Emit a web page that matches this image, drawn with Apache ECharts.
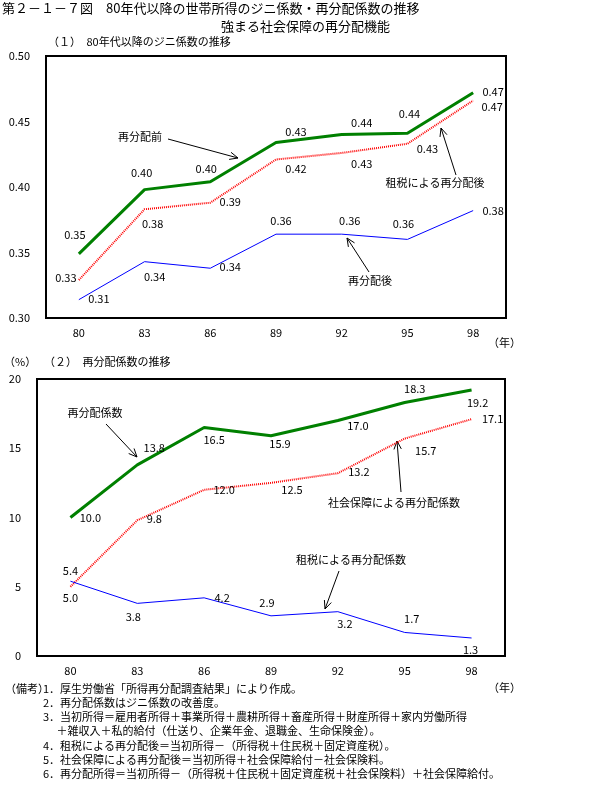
<!DOCTYPE html>
<html><head><meta charset="utf-8">
<script src="https://cdn.jsdelivr.net/npm/echarts@6/dist/echarts.min.js"></script>
<style>html,body{margin:0;padding:0;background:#fff}#c{width:600px;height:790px}</style>
</head><body><div id="c"></div>
<script>
// ---- data ----
const years = ['80', '83', '86', '89', '92', '95', '98'];
// (1) Gini coefficients
const giniBefore = [0.349, 0.398, 0.404, 0.434, 0.440, 0.441, 0.472];   // 再分配前
const giniTax    = [0.329, 0.383, 0.388, 0.421, 0.426, 0.433, 0.466];   // 租税による再分配後
const giniAfter  = [0.314, 0.343, 0.338, 0.364, 0.364, 0.360, 0.382];   // 再分配後
// (2) redistribution coefficients (%)
const rcTotal  = [10.0, 13.8, 16.5, 15.9, 17.0, 18.3, 19.2];  // 再分配係数
const rcSocial = [5.0, 9.8, 12.0, 12.5, 13.2, 15.7, 17.1];    // 社会保障による再分配係数
const rcTax    = [5.4, 3.8, 4.2, 2.9, 3.2, 1.7, 1.3];         // 租税による再分配係数

// ---- label offsets (style) ----
const offGiniBefore = [[-4,-19],[-3,-17],[-4,-13],[20,-11],[20,-12],[2,-19],[20,-1]];
const offGiniTax    = [[-13,-2],[8,15],[20,-1],[20,9],[20,11],[20,5],[19,6]];
const offGiniAfter  = [[20,-1],[10,15],[20,-1],[5,-13],[8,-13],[-4,-16],[20,0]];
const offRcTotal    = [[20,0],[17,-17],[10,12],[9,8],[20,5],[10,-14],[6,13]];
const offRcSocial   = [[0,11],[17,-1],[20,0],[21,7],[21,-1],[21,12],[21,0]];
const offRcTax      = [[0,-10],[-4,13],[18,0],[-4,-13],[7,12],[7,-14],[-1,12]];

const FONT = '"Noto Sans CJK JP", "Noto Sans", sans-serif';

function items(vals, offs) {
  return vals.map((v, i) => ({ value: v, label: { offset: offs[i] } }));
}
function lineSeries(name, vals, offs, xi, color, width, type, digits) {
  return {
    name, type: 'line', xAxisIndex: xi, yAxisIndex: xi,
    data: items(vals, offs),
    symbol: 'circle', symbolSize: 0.1, showSymbol: true,
    itemStyle: { color: 'rgba(0,0,0,0)' },
    lineStyle: { color, width, type },
    emphasis: { disabled: true },
    animation: false,
    z: width > 2 ? 3 : 2,
    label: {
      show: true, position: 'inside', color: '#000',
      fontFamily: FONT, fontSize: 11, align: 'center', verticalAlign: 'middle',
      formatter: p => Number(p.value).toFixed(digits)
    }
  };
}

function text(str, x, y, opts) {
  return Object.assign({
    type: 'text', x, y,
    style: Object.assign({ text: str, fill: '#000', font: '11px ' + FONT, textVerticalAlign: 'middle' }, opts || {})
  });
}
function arrow(x1, y1, x2, y2) {
  const a = Math.atan2(y2 - y1, x2 - x1);
  const L = 9, h = 0.42;
  const p1 = [x2 - L * Math.cos(a - h), y2 - L * Math.sin(a - h)];
  const p2 = [x2 - L * Math.cos(a + h), y2 - L * Math.sin(a + h)];
  return [
    { type: 'line', shape: { x1, y1, x2, y2 }, style: { stroke: '#000', lineWidth: 1 } },
    { type: 'polyline', shape: { points: [p1, [x2, y2], p2] }, style: { stroke: '#000', lineWidth: 1, fill: null } }
  ];
}

const notes = [
  ['（備考）', 5, 689, '1．厚生労働省「所得再分配調査結果」により作成。'],
  ['', 0, 703, '2．再分配係数はジニ係数の改善度。'],
  ['', 0, 717, '3．当初所得＝雇用者所得＋事業所得＋農耕所得＋畜産所得＋財産所得＋家内労働所得'],
  ['', 0, 731, '　 ＋雑収入＋私的給付（仕送り、企業年金、退職金、生命保険金）。'],
  ['', 0, 746, '4．租税による再分配後＝当初所得－（所得税＋住民税＋固定資産税）。'],
  ['', 0, 760, '5．社会保障による再分配後＝当初所得＋社会保障給付－社会保険料。'],
  ['', 0, 774, '6．再分配所得＝当初所得－（所得税＋住民税＋固定資産税＋社会保険料）＋社会保障給付。']
];

const graphics = [
  text('第２－１－７図　80年代以降の世帯所得のジニ係数・再分配係数の推移', 2, 8, { font: '13px ' + FONT }),
  text('強まる社会保障の再分配機能', 221, 26, { font: '13px ' + FONT }),
  text('（１）　80年代以降のジニ係数の推移', 48, 42),
  text('（年）', 488, 343),
  text('（%）', 4, 362),
  text('（２）　再分配係数の推移', 44, 362),
  text('（年）', 488, 688),
  text('再分配前', 140, 137, { textAlign: 'center' }),
  ...arrow(168, 139, 238, 158),
  text('租税による再分配後', 435, 183, { textAlign: 'center' }),
  ...arrow(456, 175, 441, 128),
  text('再分配後', 370, 281, { textAlign: 'center' }),
  ...arrow(369, 272, 347, 238),
  text('再分配係数', 95, 413, { textAlign: 'center' }),
  ...arrow(106, 424, 137, 457),
  text('社会保障による再分配係数', 394, 503, { textAlign: 'center' }),
  ...arrow(401, 492, 397, 441),
  text('租税による再分配係数', 351, 560, { textAlign: 'center' }),
  ...arrow(339, 571, 325, 609)
];
notes.forEach(n => {
  if (n[0]) graphics.push(text(n[0], n[1], n[2]));
  graphics.push(text(n[3], 43, n[2]));
});

const axisLabelStyle = { color: '#000', fontFamily: FONT, fontSize: 11 };

const option = {
  backgroundColor: '#fff',
  animation: false,
  grid: [
    { left: 46, top: 56, width: 460, height: 262, show: true, borderColor: '#000', borderWidth: 2 },
    { left: 37, top: 379, width: 468, height: 277, show: true, borderColor: '#000', borderWidth: 2 }
  ],
  xAxis: [0, 1].map(i => ({
    type: 'category', gridIndex: i, data: years, boundaryGap: true,
    axisLine: { show: false }, axisTick: { show: false }, splitLine: { show: false },
    axisLabel: Object.assign({ margin: 9 }, axisLabelStyle)
  })),
  yAxis: [
    { type: 'value', gridIndex: 0, min: 0.30, max: 0.50, interval: 0.05,
      axisLine: { show: false }, axisTick: { show: false }, splitLine: { show: false },
      axisLabel: Object.assign({ margin: 16, formatter: v => v.toFixed(2) }, axisLabelStyle) },
    { type: 'value', gridIndex: 1, min: 0, max: 20, interval: 5,
      axisLine: { show: false }, axisTick: { show: false }, splitLine: { show: false },
      axisLabel: Object.assign({ margin: 16 }, axisLabelStyle) }
  ],
  series: [
    lineSeries('再分配前', giniBefore, offGiniBefore, 0, '#008000', 3, 'solid', 2),
    lineSeries('租税による再分配後', giniTax, offGiniTax, 0, '#ff0000', 2, [1, 1], 2),
    lineSeries('再分配後', giniAfter, offGiniAfter, 0, '#0000ff', 1, 'solid', 2),
    lineSeries('再分配係数', rcTotal, offRcTotal, 1, '#008000', 3, 'solid', 1),
    lineSeries('社会保障による再分配係数', rcSocial, offRcSocial, 1, '#ff0000', 2, [1, 1], 1),
    lineSeries('租税による再分配係数', rcTax, offRcTax, 1, '#0000ff', 1, 'solid', 1)
  ],
  graphic: graphics
};

const chart = echarts.init(document.getElementById('c'), null, { renderer: 'canvas' });
chart.setOption(option);
</script>
</body></html>
